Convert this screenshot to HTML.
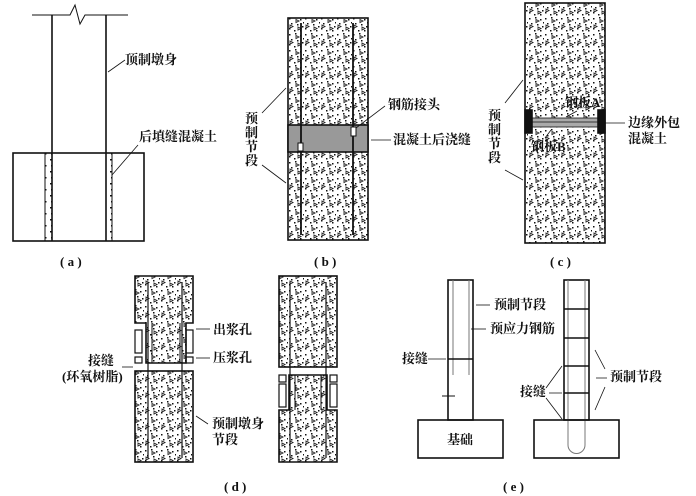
<!DOCTYPE html>
<html><head><meta charset="utf-8"><style>
html,body{margin:0;padding:0;background:#fff;}
svg{display:block;}
text{font-family:"Liberation Serif","Noto Serif CJK SC","Noto Sans CJK SC",serif;font-size:13px;fill:#111;font-weight:bold;}
</style></head><body>
<svg width="696" height="496" viewBox="0 0 696 496" xmlns="http://www.w3.org/2000/svg">
<defs>
<pattern id="c" width="16" height="16" patternUnits="userSpaceOnUse">
<rect width="16" height="16" fill="#fff"/>
<g fill="#111">
<rect x="1" y="2" width="1.5" height="1.5"/><rect x="7" y="1" width="1.5" height="1.5"/><rect x="12" y="3" width="1.5" height="1.5"/>
<rect x="3" y="7" width="1.5" height="1.5"/><rect x="9" y="8" width="1.5" height="1.5"/><rect x="14" y="10" width="1.5" height="1.5"/>
<rect x="1" y="12" width="1.5" height="1.5"/><rect x="6" y="14" width="1.5" height="1.5"/><rect x="12" y="14" width="1.5" height="1.5"/>
<rect x="15" y="6" width="1.5" height="1.5"/>
</g>
<g fill="none" stroke="#222" stroke-width="0.9">
<path d="M8 3.5 l3 1.5 l-3 1.5z"/><path d="M2 9 l3 1.5 l-3 1.5z"/><path d="M10 11 l3 1.5 l-3 1.5z"/>
</g>
</pattern>
<pattern id="d" width="6" height="12" patternUnits="userSpaceOnUse">
<rect width="6" height="12" fill="#fff"/><rect x="2" y="3" width="1.5" height="1.5" fill="#111"/><rect x="3" y="9" width="1.5" height="1.5" fill="#111"/>
</pattern>
</defs>
<g stroke="#111" fill="none" stroke-width="1.6">
<!-- (a) -->
<path d="M32 15 H70 L75 5 L80 24 L85 15 H128" stroke-width="1"/>
<rect x="45" y="153" width="7" height="88" fill="url(#d)" stroke-width="1"/>
<rect x="106" y="153" width="6" height="88" fill="url(#d)" stroke-width="1"/>
<line x1="52" y1="15" x2="52" y2="241"/><line x1="106" y1="15" x2="106" y2="241"/>
<rect x="13" y="153" width="131" height="88"/>
<line x1="108" y1="72" x2="125" y2="60" stroke-width="0.8"/>
<line x1="112" y1="175" x2="138" y2="145" stroke-width="0.8"/>
<!-- (b) -->
<rect x="288" y="18" width="80" height="222" fill="url(#c)"/>
<rect x="288" y="125" width="80" height="27" fill="#999"/>
<line x1="301" y1="23" x2="301" y2="235" stroke-width="1.8"/>
<line x1="353" y1="23" x2="353" y2="235" stroke-width="1.8"/>
<rect x="298" y="143" width="5" height="8" fill="#fff" stroke-width="1"/>
<rect x="351" y="127" width="5" height="9" fill="#fff" stroke-width="1"/>
<line x1="262" y1="113" x2="286" y2="88" stroke-width="0.8"/>
<line x1="262" y1="165" x2="286" y2="183" stroke-width="0.8"/>
<line x1="356" y1="128" x2="385" y2="106" stroke-width="0.8"/>
<line x1="371" y1="140" x2="391" y2="140" stroke-width="0.8"/>
<!-- (c) -->
<rect x="525" y="3" width="80" height="240" fill="url(#c)"/>
<rect x="532" y="118" width="66" height="9" fill="#aaa" stroke-width="0.8"/>
<line x1="532" y1="122" x2="598" y2="122" stroke-width="0.8"/>
<rect x="525" y="110" width="7" height="23" fill="#111"/>
<rect x="598" y="110" width="7" height="23" fill="#111"/>
<line x1="605" y1="123" x2="625" y2="123" stroke-width="0.8"/>
<line x1="505" y1="103" x2="523" y2="80" stroke-width="0.8"/>
<line x1="505" y1="170" x2="523" y2="180" stroke-width="0.8"/>
<line x1="566" y1="117" x2="577" y2="111" stroke-width="0.8"/>
<line x1="545" y1="138" x2="551" y2="130" stroke-width="0.8"/>
<!-- (d) left -->
<path d="M135 276 H193 V323 H186 V363 H146 V323 H135 Z" fill="url(#c)"/>
<rect x="135" y="330" width="7" height="23" stroke-width="1.2"/><rect x="135" y="357" width="7" height="6" stroke-width="1.2"/>
<rect x="186" y="330" width="7" height="23" stroke-width="1.2"/><rect x="186" y="357" width="7" height="6" stroke-width="1.2"/>
<path d="M146 323 V363 M152 323 V363 M180 323 V363 M186 323 V363" stroke-width="1"/>
<rect x="135" y="371" width="58" height="91" fill="url(#c)"/>
<line x1="148" y1="282" x2="148" y2="458" stroke-width="1.2"/>
<line x1="182" y1="282" x2="182" y2="458" stroke-width="1.2"/>
<line x1="196" y1="329" x2="210" y2="329" stroke-width="0.8"/>
<line x1="196" y1="358" x2="210" y2="358" stroke-width="0.8"/>
<line x1="122" y1="367" x2="133" y2="367" stroke-width="0.8"/>
<line x1="196" y1="416" x2="208" y2="424" stroke-width="0.8"/>
<!-- (d) right -->
<rect x="279" y="276" width="58" height="91" fill="url(#c)"/>
<path d="M289 375 H327 V410 H337 V462 H279 V410 H289 Z" fill="url(#c)"/>
<rect x="279" y="375" width="7" height="7" stroke-width="1.2"/><rect x="279" y="384" width="7" height="23" stroke-width="1.2"/>
<rect x="330" y="375" width="7" height="7" stroke-width="1.2"/><rect x="330" y="384" width="7" height="23" stroke-width="1.2"/>
<path d="M289 375 V410 M295 375 V410 M321 375 V410 M327 375 V410" stroke-width="1"/>
<line x1="290" y1="282" x2="290" y2="458" stroke-width="1.2"/>
<line x1="326" y1="282" x2="326" y2="458" stroke-width="1.2"/>
<!-- (e) left -->
<rect x="448" y="280" width="25" height="140"/>
<path d="M453 280 V375 M469 280 V375" stroke="#777" stroke-width="1"/>
<line x1="448" y1="359" x2="473" y2="359"/>
<line x1="442" y1="396" x2="455" y2="396" stroke-width="1"/>
<rect x="418" y="420" width="85" height="38"/>
<line x1="476" y1="305" x2="490" y2="305" stroke-width="0.8"/>
<line x1="471" y1="329" x2="486" y2="329" stroke-width="0.8"/>
<line x1="428" y1="359" x2="446" y2="359" stroke-width="0.8"/>
<!-- (e) right -->
<rect x="564" y="280" width="25" height="140"/>
<path d="M568 280 V445 A8.5 8.5 0 0 0 585 445 V280" stroke="#777" stroke-width="1"/>
<path d="M564 309 H589 M564 338 H589 M564 366 H589 M564 393 H589"/>
<rect x="534" y="420" width="85" height="38"/>
<path d="M546 388 L562 366 M549 393 H562 M546 398 L562 419" stroke-width="0.8"/>
<path d="M595 350 L605 369 M596 378 H607 M595 410 L605 387" stroke-width="0.8"/>
</g>
<text x="125" y="64">顶制墩身</text>
<text x="139" y="141">后填缝混凝土</text>
<text x="60" y="266">( a )</text>
<text x="245" y="123">预</text><text x="245" y="137">制</text><text x="245" y="151">节</text><text x="245" y="165">段</text>
<text x="388" y="109">钢筋接头</text>
<text x="393" y="144">混凝土后浇缝</text>
<text x="314" y="266">( b )</text>
<text x="488" y="120">预</text><text x="488" y="134">制</text><text x="488" y="148">节</text><text x="488" y="162">段</text>
<text x="565" y="107">钢板A</text>
<text x="531" y="151">钢板B</text>
<text x="628" y="127">边缘外包</text>
<text x="628" y="143">混凝土</text>
<text x="550" y="266">( c )</text>
<text x="213" y="334">出浆孔</text>
<text x="213" y="362">压浆孔</text>
<text x="88" y="365">接缝</text>
<text x="62" y="381">(环氧树脂)</text>
<text x="212" y="428">预制墩身</text>
<text x="212" y="444">节段</text>
<text x="224" y="491">( d )</text>
<text x="494" y="309">预制节段</text>
<text x="490" y="333">预应力钢筋</text>
<text x="402" y="363">接缝</text>
<text x="447" y="444">基础</text>
<text x="520" y="396">接缝</text>
<text x="610" y="381">预制节段</text>
<text x="503" y="491">( e )</text>
</svg>
</body></html>
